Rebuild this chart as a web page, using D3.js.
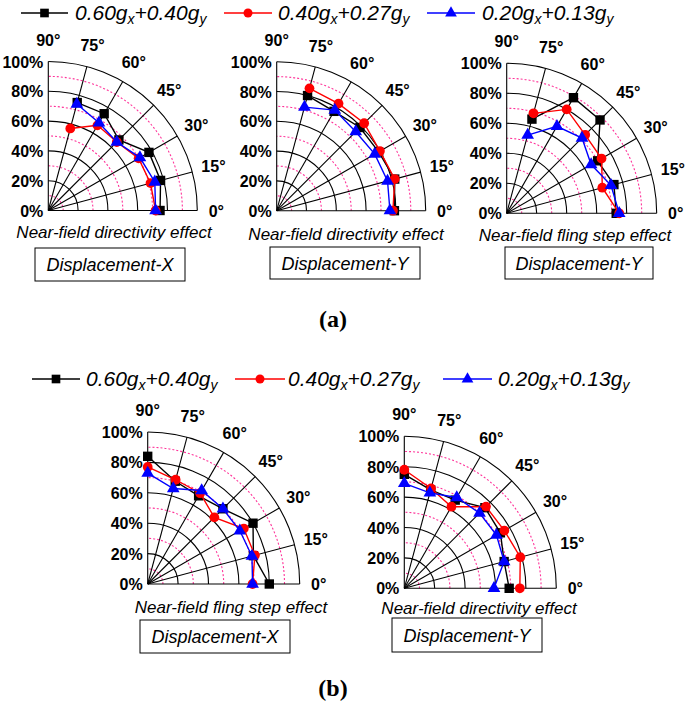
<!DOCTYPE html>
<html><head><meta charset="utf-8">
<script src="https://cdn.jsdelivr.net/npm/d3@7/dist/d3.min.js"></script>
<style>body{margin:0;background:#fff}svg{display:block}</style>
</head><body>
<svg id="c" width="685" height="703"></svg>
<script>
// ---------- data ----------
const legendParts = [["0.60g","x","+0.40g","y"],["0.40g","x","+0.27g","y"],["0.20g","x","+0.13g","y"]];
const seriesColors = ["#000000","#ff0000","#0000ff"];
const seriesSymbols = [d3.symbolSquare, d3.symbolCircle, d3.symbolTriangle];
const angleTicks = [0,15,30,45,60,75,90];
const radiusTicks = [0,20,40,60,80,100];
const minorRadii = [10,30,50,70,90];
const anglesA = [0,15,30,45,60,75];
const anglesB = [0,15,30,45,60,75,90];

const a1Black = [75,78,78,67,75,75];
const a1Red   = [72,71,70,65,66,57];
const a1Blue  = [72,74,71,65,68,74];

const a2Black = [79,82,79,79,77,80];
const a2Red   = [78,82,80,83,83,85];
const a2Blue  = [76,77,76,75,78,72];

const a3Black = [73,74,70,88,89,65];
const a3Red   = [75,66,73,74,80,69];
const a3Blue  = [75,72,65,71,67,54];

const b1Black = [80,72,80,70,67,70,84];
const b1Red   = [69,73,73,62,69,71,77];
const b1Blue  = [69,71,70,70,71,65,73];

const b2Black = [69,68,73,75,67,67,75];
const b2Red   = [76,79,76,76,62,68,78];
const b2Blue  = [59,68,70,70,69,65,69];

const titles = ["Near-field directivity effect","Near-field directivity effect","Near-field fling step effect",
                "Near-field fling step effect","Near-field directivity effect"];
const boxLabels = ["Displacement-X","Displacement-Y","Displacement-Y","Displacement-X","Displacement-Y"];
const panelLabels = ["(a)","(b)"];

// ---------- layout ----------
const charts = [
  {angles: anglesA, series:[a1Black,a1Red,a1Blue], cx:48.3, cy:210.5, R:149, tx:114, ty:232, bx:35, by:248, bw:150, bh:33},
  {angles: anglesA, series:[a2Black,a2Red,a2Blue], cx:276.7, cy:210.7, R:149, tx:346, ty:234, bx:270, by:247, bw:150, bh:32},
  {angles: anglesA, series:[a3Black,a3Red,a3Blue], cx:506.7, cy:213.3, R:150, tx:575, ty:235, bx:505, by:247, bw:148, bh:32},
  {angles: anglesB, series:[b1Black,b1Red,b1Blue], cx:147.7, cy:584, R:152, tx:231, ty:607, bx:140, by:620, bw:150, bh:33},
  {angles: anglesB, series:[b2Black,b2Red,b2Blue], cx:404.3, cy:588.3, R:152, tx:479, ty:608, bx:392, by:618, bw:150, bh:34}
];
const legendRows = [
  {y:13, base:19.5, lines:[[21,68],[224,272],[427,475]], texts:[75,278,482]},
  {y:379, base:385.5, lines:[[32,80],[235,285],[443,492]], texts:[86,288,498]}
];

const svg = d3.select("#c");
const sans = "Arial, 'Liberation Sans', Helvetica, sans-serif";
const symSizes = [88, 75, 70];

// legends
legendRows.forEach(row => {
  legendParts.forEach((parts, i) => {
    const g = svg.append("g");
    const [x0,x1] = row.lines[i];
    g.append("line").attr("x1",x0).attr("x2",x1).attr("y1",row.y).attr("y2",row.y)
      .attr("stroke",seriesColors[i]).attr("stroke-width",1.4);
    g.append("path").attr("d", d3.symbol(seriesSymbols[i], symSizes[i]*0.85)())
      .attr("transform",`translate(${(x0+x1)/2},${row.y})`).attr("fill",seriesColors[i]);
    const t = g.append("text").attr("x",row.texts[i]).attr("y",row.base)
      .attr("font-family",sans).attr("font-style","italic").attr("font-size",21).attr("fill","#000");
    t.append("tspan").text(parts[0]);
    t.append("tspan").attr("font-size",14).attr("dy",4).text(parts[1]);
    t.append("tspan").attr("dy",-4).text(parts[2]);
    t.append("tspan").attr("font-size",14).attr("dy",4).text(parts[3]);
  });
});

// panels
charts.forEach((c, ci) => {
  const g = svg.append("g").attr("transform",`translate(${c.cx},${c.cy})`);
  const r = d3.scaleLinear().domain([0,100]).range([0,c.R]);
  const a = d3.scaleLinear().domain([0,90]).range([Math.PI/2, 0]);
  const arcPath = rad => { const p = d3.path(); p.moveTo(rad,0); p.arc(0,0,rad,0,-Math.PI/2,true); return p.toString(); };

  g.selectAll(".minor").data(minorRadii).join("path")
    .attr("d", d => arcPath(r(d))).attr("fill","none")
    .attr("stroke","#ff3399").attr("stroke-width",1.1).attr("stroke-dasharray","2,2");
  g.selectAll(".major").data(radiusTicks.slice(1)).join("path")
    .attr("d", d => arcPath(r(d))).attr("fill","none")
    .attr("stroke","#000").attr("stroke-width",1.1);
  g.selectAll(".spoke").data(angleTicks).join("line")
    .attr("x1",0).attr("y1",0)
    .attr("x2", d => r(100)*Math.sin(a(d))).attr("y2", d => -r(100)*Math.cos(a(d)))
    .attr("stroke","#000").attr("stroke-width",1.1);

  g.selectAll(".rl").data(radiusTicks).join("text")
    .attr("x",-5).attr("y", d => -r(d)+6)
    .attr("text-anchor","end").attr("font-family",sans).attr("font-weight","bold").attr("font-size",16)
    .text(d => d + "%");
  g.selectAll(".al").data(angleTicks).join("text")
    .attr("x", d => (c.R + (d===0?17:22))*Math.sin(a(d)) + (d===0?2:0))
    .attr("y", d => -(c.R + (d===0?17:22))*Math.cos(a(d)) + 6)
    .attr("text-anchor","middle").attr("font-family",sans).attr("font-weight","bold").attr("font-size",16)
    .text(d => d + "°");

  c.series.forEach((vals, si) => {
    const pts = c.angles.map((ang, k) => ({ang, v: vals[k]}));
    const line = d3.lineRadial().angle(d => a(d.ang)).radius(d => r(d.v));
    g.append("path").attr("d", line(pts)).attr("fill","none")
      .attr("stroke",seriesColors[si]).attr("stroke-width",1.4);
    g.selectAll(null).data(pts).join("path")
      .attr("d", d3.symbol(seriesSymbols[si], symSizes[si])())
      .attr("transform", d => `translate(${r(d.v)*Math.sin(a(d.ang))},${-r(d.v)*Math.cos(a(d.ang))})`)
      .attr("fill",seriesColors[si]);
  });

  svg.append("text").attr("x",c.tx).attr("y",c.ty+6).attr("text-anchor","middle")
    .attr("font-family",sans).attr("font-style","italic").attr("font-size",17).text(titles[ci]);
  svg.append("rect").attr("x",c.bx).attr("y",c.by).attr("width",c.bw).attr("height",c.bh)
    .attr("fill","none").attr("stroke","#000").attr("stroke-width",1);
  svg.append("text").attr("x",c.bx+c.bw/2).attr("y",c.by+c.bh/2+6.5).attr("text-anchor","middle")
    .attr("font-family",sans).attr("font-style","italic").attr("font-size",18).text(boxLabels[ci]);
});

[[333,327],[333,696]].forEach((p,i) => {
  svg.append("text").attr("x",p[0]).attr("y",p[1]).attr("text-anchor","middle")
    .attr("font-family","'Times New Roman','Liberation Serif',serif").attr("font-weight","bold")
    .attr("font-size",24).text(panelLabels[i]);
});
</script>
</body></html>
